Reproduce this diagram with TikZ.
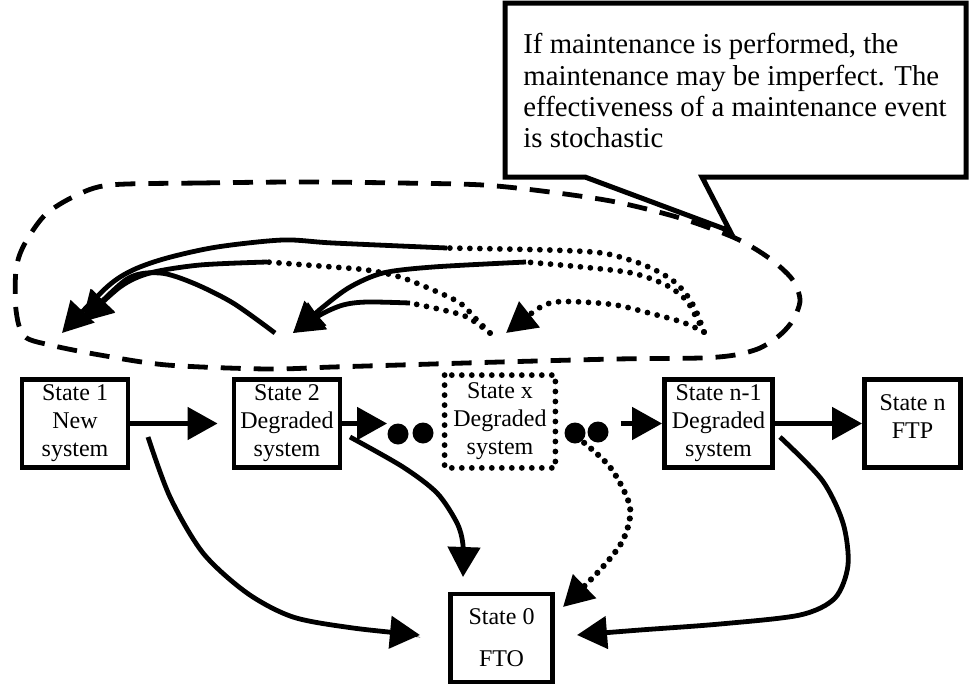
\documentclass[tikz,border=0pt]{standalone}
\usepackage{fontspec}
\setmainfont{Liberation Serif}
\usetikzlibrary{arrows.meta}

\begin{document}
\begin{tikzpicture}[x=0.5pt,y=-0.5pt,
        >={Triangle[length=15pt,width=16pt]},
        state/.style={draw,line width=2.4pt,minimum width=53pt,minimum height=44pt,inner sep=0pt,align=center,font=\fontsize{12}{14}\selectfont},
        dot/.style={circle,fill=black,inner sep=0pt,minimum size=10.5pt},
        link/.style={line width=2.4pt,->},
        dotline/.style={line width=2.9pt,line cap=round,dash pattern=on 0pt off 5pt},
        loopline/.style={line width=2.4pt,dash pattern=on 10pt off 6.5pt},
        note/.style={align=left,inner sep=0pt,font=\fontsize{14.4}{15.7}\selectfont}]

        \useasboundingbox (0,0) rectangle (969,685);

        % Maintenance loop
        \draw[loopline] plot [smooth cycle] coordinates {(110,185) (200,183) (300,182) (400,183) (483,185) (550,192) (616,202) (680,218) (735,238) (769,258) (792,279) (800,300) (793,320) (780,335) (760,348) (735,355) (700,358) (616,359) (500,362) (400,365) (333,367) (267,369) (167,365) (100,355) (50,345) (24,336) (16,310) (16,270) (24,245) (45,215) (75,196)};

        % Callout
        \filldraw[fill=white,line width=2.5pt] (505,3) -- (966,3) -- (966,177) -- (702,177) -- (730,231) -- (585,177) -- (505,177) -- cycle;
        \node[note,anchor=north west] (note) at (523,33) {If maintenance is performed, the\\maintenance may be imperfect. The\\effectiveness of a maintenance event\\is stochastic};

        % Draw states
        \node[state] (s1) at (75,423.5) {State 1\\New\\system};
        \node[state] (s2) at (287,423.5) {State 2\\Degraded\\system};
        \node[state,draw=none] (sx) at (500,421.5) {State x\\Degraded\\system};
        \draw[dotline] (sx.north west) rectangle (sx.south east);
        \node[state,minimum width=54pt] (sn1) at (718.5,423.5) {State n-1\\Degraded\\system};
        \node[state,minimum width=48pt,text depth=7pt] (sn) at (912.5,423.5) {State n\\FTP};
        \node[state,minimum width=51pt] (s0) at (501.5,638) {State 0\\[7pt]FTO};

        % Draw points
        \foreach \name/\x/\y in {d1/398/434, d2/423/433, d3/575/433, d4/598/432}
            \node[dot] (\name) at (\x,\y) {};

        % Degradation arrows
        \draw[link,shorten >=7pt] (s1) -- (s2);
        \draw[link] (s2) -- (s2 -| d1.west);
        \draw[link,shorten <=6pt] (d4.east |- sn1) -- (sn1);
        \draw[link] (sn1) -- (sn);

        % Failure arrows
        \coordinate (B1) at (148,437);
        \coordinate (B2) at (350,437);
        \coordinate (Bx) at (577,437);
        \coordinate (Bn) at (780,437);
        \coordinate (F1) at (420,635);
        \coordinate (F2) at (463,577);
        \coordinate (Fx) at (563,607);
        \coordinate (Fn) at (577,635);

        \draw[link] plot [smooth] coordinates {(B1) (170,497) (203,553) (247,593) (293,617) (353,628) (F1)};
        \draw[link] plot [smooth] coordinates {(B2) (403,467) (437,493) (457,523) (463,545) (F2)};
        \draw[link,dotline,line width=3.1pt,dash pattern=on 0pt off 4.6pt] plot [smooth] coordinates {(Bx) (610,467) (630,507) (623,540) (600,570) (Fx)};
        \draw[link] plot [smooth] coordinates {(Bn) (822,480) (843,523) (848,565) (835,598) (800,615) (720,624) (640,630) (Fn)};

        % Maintenance arcs
        \coordinate (M2) at (275,333);
        \coordinate (Mx) at (490,333);
        \coordinate (Mn) at (704,332);
        \coordinate (T1a) at (62,333);
        \coordinate (T1b) at (82,322);
        \coordinate (T2) at (293,333);
        \coordinate (Tx) at (506,333);
        \coordinate (J1) at (447,248);
        \coordinate (J2) at (267,262);
        \coordinate (J4) at (526,262);
        \coordinate (J5) at (410,303);

        \draw[dotline] plot [smooth] coordinates {(Mn) (697,313) (689,298) (676,283) (659,272) (636,262) (602,253) (549,250) (J1)};
        \draw[link] plot [smooth] coordinates {(J1) (333,243) (283,240) (217,247) (167,258) (133,270) (107,287) (T1a)};
        \draw[dotline] plot [smooth] coordinates {(Mx) (477,320) (460,303) (433,290) (400,277) (367,270) (333,267) (J2)};
        \draw[link] plot [smooth] coordinates {(J2) (200,265) (150,273) (120,287) (T1b)};
        \draw[link] plot [smooth] coordinates {(M2) (233,303) (193,283) (160,273) (127,279) (T1b)};
        \draw[dotline] plot [smooth] coordinates {(Mn) (696,317) (686,300) (666,285) (632,273) (582,267) (J4)};
        \draw[link] plot [smooth] coordinates {(J4) (433,267) (383,273) (350,287) (323,307) (T2)};
        \draw[dotline] plot [smooth] coordinates {(Mx) (467,317) (443,310) (J5)};
        \draw[link] plot [smooth] coordinates {(J5) (367,302) (343,305) (320,315) (T2)};
        \draw[link,dotline] plot [smooth] coordinates {(Mn) (682,322) (649,313) (616,305) (582,302) (556,302) (539,308) (Tx)};

\end{tikzpicture}
\end{document}
